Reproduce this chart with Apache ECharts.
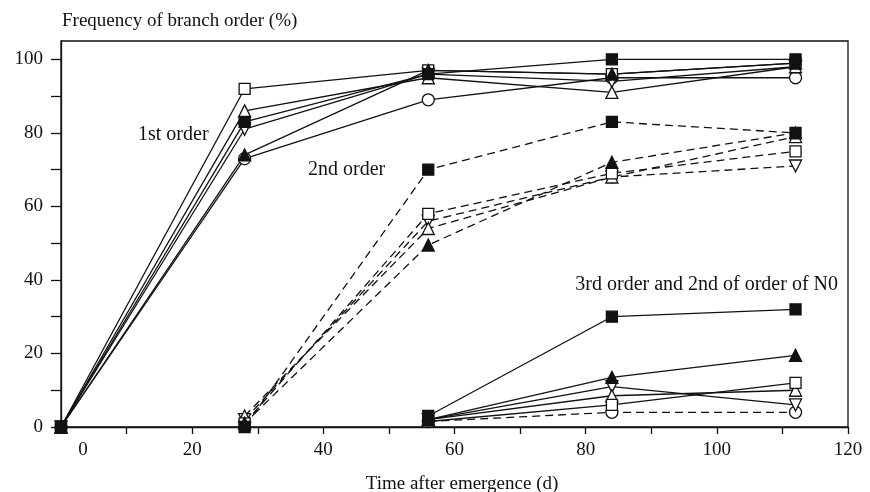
<!DOCTYPE html>
<html>
<head>
<meta charset="utf-8">
<script src="https://cdn.jsdelivr.net/npm/echarts@6/dist/echarts.min.js"></script>
<style>
  html, body { margin: 0; padding: 0; background: #fff; }
  #chart { width: 870px; height: 492px; }
</style>
</head>
<body>
<div id="chart"></div>
<script>
// Sampling days after emergence
const days = [0, 28, 56, 84, 112];

// 1st order branches (%)
const firstOpenSquare   = [0, 92, 97, 96, 99];
const firstFilledSquare = [0, 83, 96, 100, 100];
const firstOpenTriUp    = [0, 86, 95, 91, 98];
const firstFilledTriUp  = [0, 74, 97, 96, 99];
const firstOpenTriDown  = [0, 81, 96, 94, 98];
const firstCircleN0     = [0, 73, 89, 95, 95];

// 2nd order branches (%)
const secondOpenSquare   = [null, 1, 58, 69, 75];
const secondFilledSquare = [null, 0, 70, 83, 80];
const secondOpenTriUp    = [null, 3, 54, 68, 79];
const secondFilledTriUp  = [null, 1, 49.5, 72, 80];
const secondOpenTriDown  = [null, 2, 56, 68, 71];

// 3rd order branches (%), and 2nd order of N0
const thirdOpenSquare   = [null, null, 1.5, 6, 12];
const thirdFilledSquare = [null, null, 3, 30, 32];
const thirdOpenTriUp    = [null, null, 2, 8.5, 10];
const thirdFilledTriUp  = [null, null, 2, 13.5, 19.5];
const thirdOpenTriDown  = [null, null, 2, 11, 6];
const secondCircleN0    = [null, null, 1.5, 4, 4];

// Axis ticks and labels
const xTicks  = [0, 10, 20, 30, 40, 50, 60, 70, 80, 90, 100, 110, 120];
const xLabels = [0, 20, 40, 60, 80, 100, 120];
const yTicks  = [0, 10, 20, 30, 40, 50, 60, 70, 80, 90, 100];
const yLabels = [0, 20, 40, 60, 80, 100];

const FONT = '"Liberation Serif", "DejaVu Serif", serif';
const INK = '#111';

const markers = {
  openSquare:   { symbol: 'rect', symbolSize: 11, fill: '#fff' },
  filledSquare: { symbol: 'rect', symbolSize: 11, fill: INK },
  openTriUp:    { symbol: 'triangle', symbolSize: [12, 12], fill: '#fff' },
  filledTriUp:  { symbol: 'triangle', symbolSize: [12, 12], fill: INK },
  openTriDown:  { symbol: 'triangle', symbolSize: [12, 12], fill: '#fff', rotate: 180 },
  circle:       { symbol: 'circle', symbolSize: 12, fill: '#fff' }
};

function makeSeries(name, values, markerKey, dashed) {
  const m = markers[markerKey];
  const data = [];
  values.forEach((v, i) => { if (v !== null) data.push([days[i], v]); });
  return {
    name: name,
    type: 'line',
    data: data,
    symbol: m.symbol,
    symbolSize: m.symbolSize,
    symbolRotate: m.rotate || 0,
    showAllSymbol: true,
    animation: false,
    lineStyle: { color: INK, width: 1.3, type: dashed ? [8, 5] : 'solid' },
    itemStyle: { color: m.fill, borderColor: INK, borderWidth: 1.3, opacity: 1 },
    emphasis: { disabled: true }
  };
}

const series = [
  makeSeries('1st N0', firstCircleN0, 'circle', false),
  makeSeries('1st tri down', firstOpenTriDown, 'openTriDown', false),
  makeSeries('1st tri up', firstOpenTriUp, 'openTriUp', false),
  makeSeries('1st open sq', firstOpenSquare, 'openSquare', false),
  makeSeries('1st filled tri', firstFilledTriUp, 'filledTriUp', false),
  makeSeries('1st filled sq', firstFilledSquare, 'filledSquare', false),

  makeSeries('2nd tri down', secondOpenTriDown, 'openTriDown', true),
  makeSeries('2nd tri up', secondOpenTriUp, 'openTriUp', true),
  makeSeries('2nd open sq', secondOpenSquare, 'openSquare', true),
  makeSeries('2nd filled tri', secondFilledTriUp, 'filledTriUp', true),
  makeSeries('2nd filled sq', secondFilledSquare, 'filledSquare', true),

  makeSeries('2nd N0', secondCircleN0, 'circle', true),
  makeSeries('3rd tri down', thirdOpenTriDown, 'openTriDown', false),
  makeSeries('3rd tri up', thirdOpenTriUp, 'openTriUp', false),
  makeSeries('3rd open sq', thirdOpenSquare, 'openSquare', false),
  makeSeries('3rd filled tri', thirdFilledTriUp, 'filledTriUp', false),
  makeSeries('3rd filled sq', thirdFilledSquare, 'filledSquare', false)
];

const chart = echarts.init(document.getElementById('chart'), null, { renderer: 'canvas' });

chart.setOption({
  backgroundColor: '#fff',
  animation: false,
  textStyle: { fontFamily: FONT },
  grid: {
    left: 61, right: 22, top: 41, bottom: 65,
    show: true, borderColor: INK, borderWidth: 1.3, backgroundColor: 'transparent'
  },
  xAxis: {
    type: 'value',
    min: 0, max: 120,
    axisLine: { show: true, lineStyle: { color: INK, width: 1.3 } },
    axisTick: { show: true, length: 7, customValues: xTicks, lineStyle: { color: INK, width: 1.3 } },
    axisLabel: {
      customValues: xLabels,
      margin: 14,
      color: INK,
      fontFamily: FONT,
      fontSize: 19,
      formatter: function (v) { return v === 0 ? '{zero|0}' : String(v); },
      rich: { zero: { fontFamily: FONT, fontSize: 19, color: INK, padding: [0, 0, 0, 44] } }
    },
    splitLine: { show: false }
  },
  yAxis: {
    type: 'value',
    min: 0, max: 105,
    axisLine: { show: true, lineStyle: { color: INK, width: 1.3 } },
    axisTick: { show: true, length: 10, customValues: yTicks, lineStyle: { color: INK, width: 1.3 } },
    axisLabel: {
      customValues: yLabels,
      margin: 18,
      color: INK,
      fontFamily: FONT,
      fontSize: 19
    },
    splitLine: { show: false }
  },
  graphic: [
    { type: 'text', left: 62, top: 12,
      style: { text: 'Frequency of branch order (%)', font: '19px ' + FONT, fill: INK } },
    { type: 'text', x: 462, y: 484,
      style: { text: 'Time after emergence (d)', font: '19px ' + FONT, fill: INK,
               textAlign: 'center', textVerticalAlign: 'middle' } },
    { type: 'text', x: 138, y: 135,
      style: { text: '1st order', font: '20px ' + FONT, fill: INK, textVerticalAlign: 'middle' } },
    { type: 'text', x: 308, y: 170,
      style: { text: '2nd order', font: '20px ' + FONT, fill: INK, textVerticalAlign: 'middle' } },
    { type: 'text', x: 838, y: 285,
      style: { text: '3rd order and 2nd of order of N0', font: '20px ' + FONT, fill: INK,
               textAlign: 'right', textVerticalAlign: 'middle' } }
  ],
  series: series
});
</script>
</body>
</html>
